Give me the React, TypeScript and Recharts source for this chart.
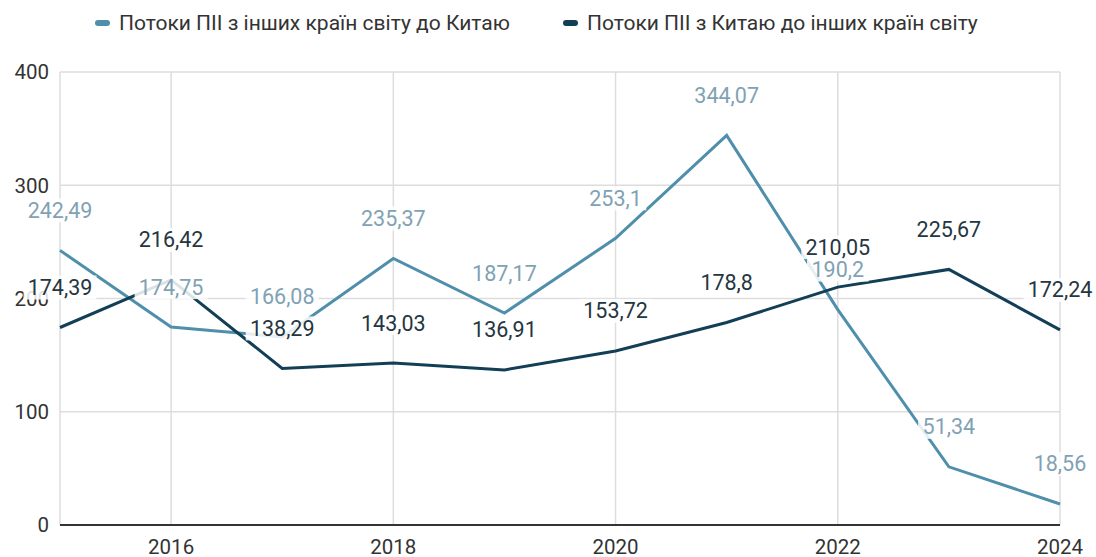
import React from "react";
import { LineChart, Line, XAxis, YAxis, CartesianGrid, LabelList } from "recharts";

const years = [2015, 2016, 2017, 2018, 2019, 2020, 2021, 2022, 2023, 2024];
const inflows = [242.49, 174.75, 166.08, 235.37, 187.17, 253.1, 344.07, 190.2, 51.34, 18.56];
const outflows = [174.39, 216.42, 138.29, 143.03, 136.91, 153.72, 178.8, 210.05, 225.67, 172.24];
const xTicks = [2016, 2018, 2020, 2022, 2024];
const yTicks = [0, 100, 200, 300, 400];
const seriesNames = [
  "Потоки ПІІ з інших країн світу до Китаю",
  "Потоки ПІІ з Китаю до інших країн світу",
];

const LIGHT = "#4f8fab";
const DARK = "#123f56";
const LIGHT_LABEL = "#7fa2b4";
const DARK_LABEL = "#25363f";
const FONT = "Roboto, 'Noto Sans', sans-serif";

const data = years.map((y, i) => ({ year: y, inflow: inflows[i], outflow: outflows[i] }));

const fmt = (v: number) => String(v).replace(".", ",");

const makeLabel = (color: string) => (props: any) => {
  const { x, y, value } = props;
  const text = fmt(value);
  const w = text.length * 11.5 + 4;
  const cy = y - 40;
  return (
    <g>
      <rect x={x - w / 2} y={cy - 12} width={w} height={24} fill="#ffffff" opacity={0.85} />
      <text
        x={x}
        y={cy}
        textAnchor="middle"
        dominantBaseline="central"
        fill={color}
        fontSize={21.5}
        fontFamily={FONT}
      >
        {text}
      </text>
    </g>
  );
};

export default function App() {
  return (
    <div style={{ position: "absolute", left: 0, top: 0, width: 1096, height: 557, background: "#fff" }}>
      <div
        style={{
          position: "absolute",
          left: 0,
          top: 10,
          width: 1096,
          fontFamily: FONT,
          fontSize: 21,
          color: "#333",
        }}
      >
        <div style={{ position: "absolute", left: 95, top: 0, display: "flex", alignItems: "center", height: 26 }}>
          <span style={{ width: 15, height: 6, borderRadius: 3, background: LIGHT, marginRight: 9 }} />
          <span>{seriesNames[0]}</span>
        </div>
        <div style={{ position: "absolute", left: 563, top: 0, display: "flex", alignItems: "center", height: 26 }}>
          <span style={{ width: 15, height: 6, borderRadius: 3, background: DARK, marginRight: 9 }} />
          <span>{seriesNames[1]}</span>
        </div>
      </div>
      <LineChart width={1096} height={557} data={data} margin={{ top: 72, right: 36, bottom: 2, left: 10 }}>
        <CartesianGrid stroke="#dddddd" strokeWidth={1.5} />
        <XAxis
          dataKey="year"
          type="number"
          domain={[2015, 2024]}
          ticks={xTicks}
          tickLine={false}
          axisLine={{ stroke: "#333", strokeWidth: 2 }}
          tick={{ fill: "#333", fontSize: 20.5, fontFamily: FONT }}
          tickMargin={8}
          height={30}
        />
        <YAxis
          domain={[0, 400]}
          ticks={yTicks}
          axisLine={false}
          tickLine={false}
          tick={{ fill: "#333", fontSize: 20.5, fontFamily: FONT }}
          tickMargin={5}
          width={50}
        />
        <Line dataKey="inflow" stroke={LIGHT} strokeWidth={3} dot={false} isAnimationActive={false} />
        <Line dataKey="outflow" stroke={DARK} strokeWidth={3} dot={false} isAnimationActive={false} />
        <Line dataKey="inflow" stroke="none" dot={false} isAnimationActive={false}>
          <LabelList dataKey="inflow" content={makeLabel(LIGHT_LABEL)} />
        </Line>
        <Line dataKey="outflow" stroke="none" dot={false} isAnimationActive={false}>
          <LabelList dataKey="outflow" content={makeLabel(DARK_LABEL)} />
        </Line>
      </LineChart>
    </div>
  );
}
